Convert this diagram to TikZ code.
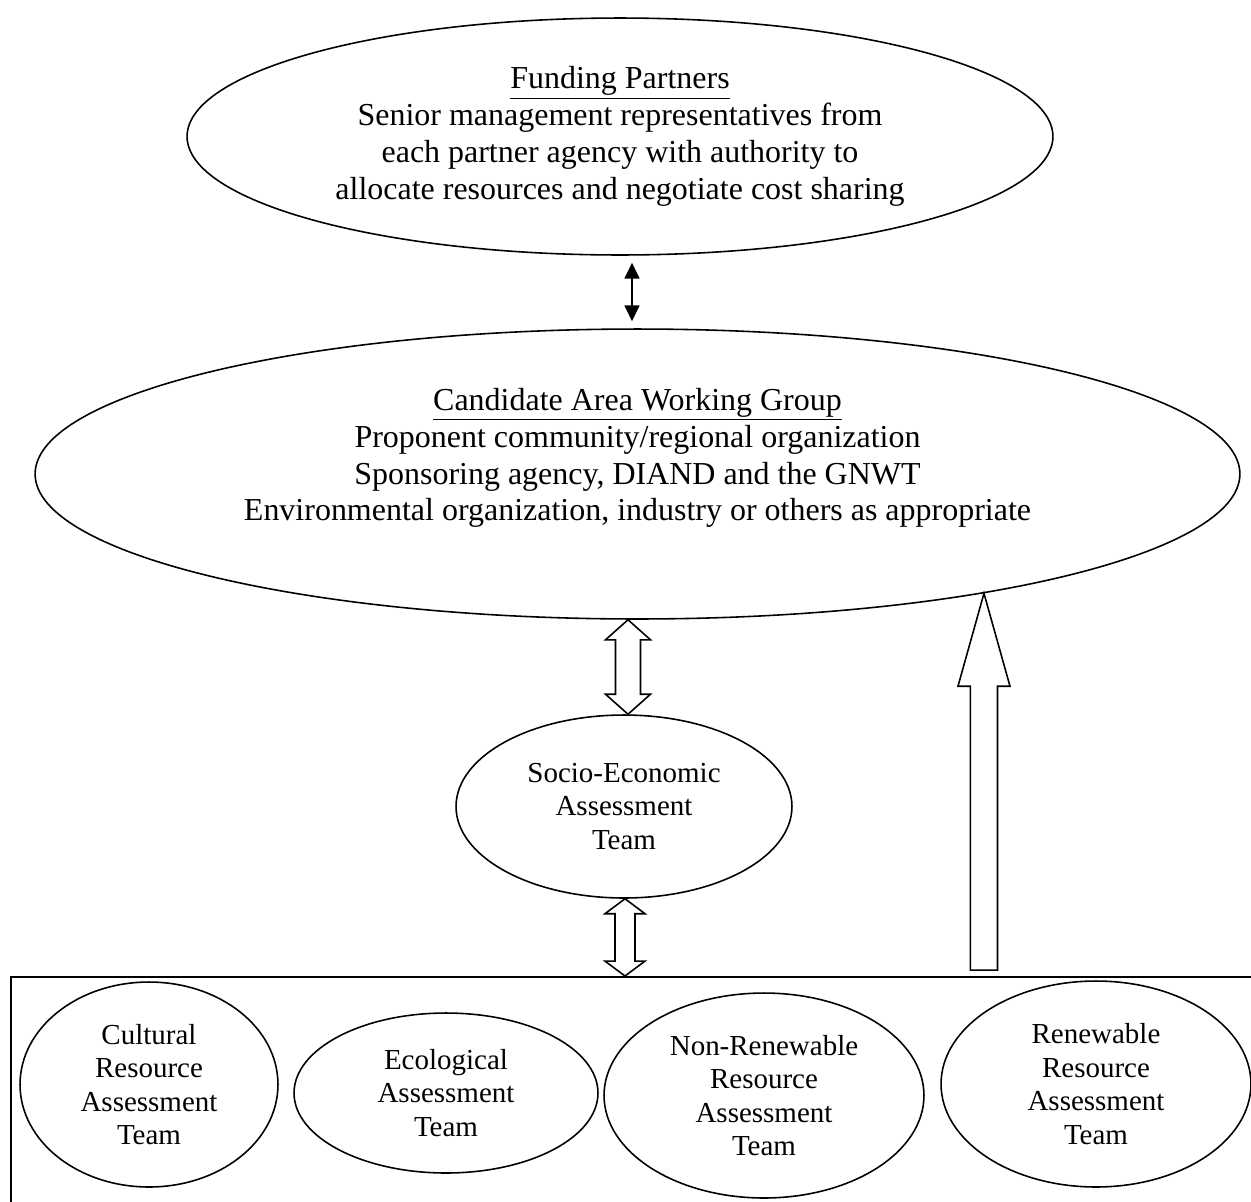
\documentclass[tikz,border=0pt]{standalone}
\usepackage{fontspec}
\setmainfont{Liberation Serif}
\usepackage{tikz}
\usetikzlibrary{arrows.meta,shapes.geometric,calc}

\newcommand{\headfont}{\fontsize{18.2pt}{21pt}\selectfont}
\newcommand{\teamfont}{\fontsize{16.5pt}{19pt}\selectfont}

% hollow double block arrow: #1 top tip, #2 bottom tip, #3 half shaft, #4 half head, #5 head length
\newcommand{\hollowdouble}[5]{%
  \draw[blockarrow] let \p1=(#1), \p2=(#2) in
    (\x1,\y1) -- (\x1+#4,\y1-#5) -- (\x1+#3,\y1-#5) -- (\x1+#3,\y2+#5) -- (\x1+#4,\y2+#5)
    -- (\x1,\y2) -- (\x1-#4,\y2+#5) -- (\x1-#3,\y2+#5) -- (\x1-#3,\y1-#5) -- (\x1-#4,\y1-#5) -- cycle;}

\tikzset{
  oval/.style={ellipse, draw, line width=0.9pt, inner sep=0pt, align=center},
  group/.style={oval, font=\headfont},
  team/.style={oval, font=\teamfont},
  blockarrow/.style={draw, fill=white, line width=0.9pt, line join=miter},
  linkarrow/.style={line width=1pt, {Triangle[length=9pt,width=8.5pt]}-{Triangle[length=9pt,width=8.5pt]}}
}

\begin{document}
\begin{tikzpicture}[x=0.02cm, y=-0.02cm]
  \useasboundingbox (0,0) rectangle (1251,1201);
  \clip (0,0) rectangle (1251,1201);

  % upper groups
  \node[group, minimum width=17.32cm, minimum height=4.74cm] (fund) at (620,136.5)
    {\underline{Funding Partners}\\
     Senior management representatives from\\
     each partner agency with authority to\\
     allocate resources and negotiate cost sharing};
  \node[oval, minimum width=24.1cm, minimum height=5.8cm] (wg) at (637.5,474) {};
  \node[font=\headfont, align=center] (wgtext) at (637.5,458)
    {\underline{Candidate Area Working Group}\\
     Proponent community/regional organization\\
     Sponsoring agency, DIAND and the GNWT\\
     Environmental organization, industry or others as appropriate};
  \node[team, minimum width=6.72cm, minimum height=3.66cm] (se) at (624,806.5)
    {Socio-Economic\\ Assessment\\ Team};

  % assessment teams
  \node[draw, line width=0.9pt, anchor=north west, minimum width=25.2cm, minimum height=5cm] (teams) at (10,976) {};
  \node[team, minimum width=5.16cm, minimum height=4.1cm] (cult) at (149,1084.5)
    {Cultural\\ Resource\\ Assessment\\ Team};
  \node[team, minimum width=6.08cm, minimum height=3.2cm] (eco) at (446,1093)
    {Ecological\\ Assessment\\ Team};
  \node[team, minimum width=6.4cm, minimum height=4.1cm] (nonren) at (764,1095.5)
    {Non-Renewable\\ Resource\\ Assessment\\ Team};
  \node[team, minimum width=6.2cm, minimum height=4.12cm] (ren) at (1096,1084)
    {Renewable\\ Resource\\ Assessment\\ Team};

  % connectors
  \coordinate (ax0) at (632,0);
  \coordinate (ax1) at (628,0);
  \coordinate (ax2) at (625,0);
  \draw[linkarrow, shorten <=4pt, shorten >=4pt] (fund.south -| ax0) -- (wg.north -| ax0);
  \hollowdouble{wg.south -| ax1}{se.north -| ax1}{7.1pt}{12.8pt}{11.4pt}
  \hollowdouble{se.south -| ax2}{teams.north -| ax2}{5.7pt}{11.4pt}{8.5pt}
  \draw[blockarrow] let \p1=(wg.-19.6), \p2=(teams.north) in
    (\x1,\y1) -- (\x1+14.8pt,\y1-52.9pt) -- (\x1+7.7pt,\y1-52.9pt) -- (\x1+7.7pt,\y2+3.4pt)
    -- (\x1-7.7pt,\y2+3.4pt) -- (\x1-7.7pt,\y1-52.9pt) -- (\x1-14.8pt,\y1-52.9pt) -- cycle;
\end{tikzpicture}
\end{document}
